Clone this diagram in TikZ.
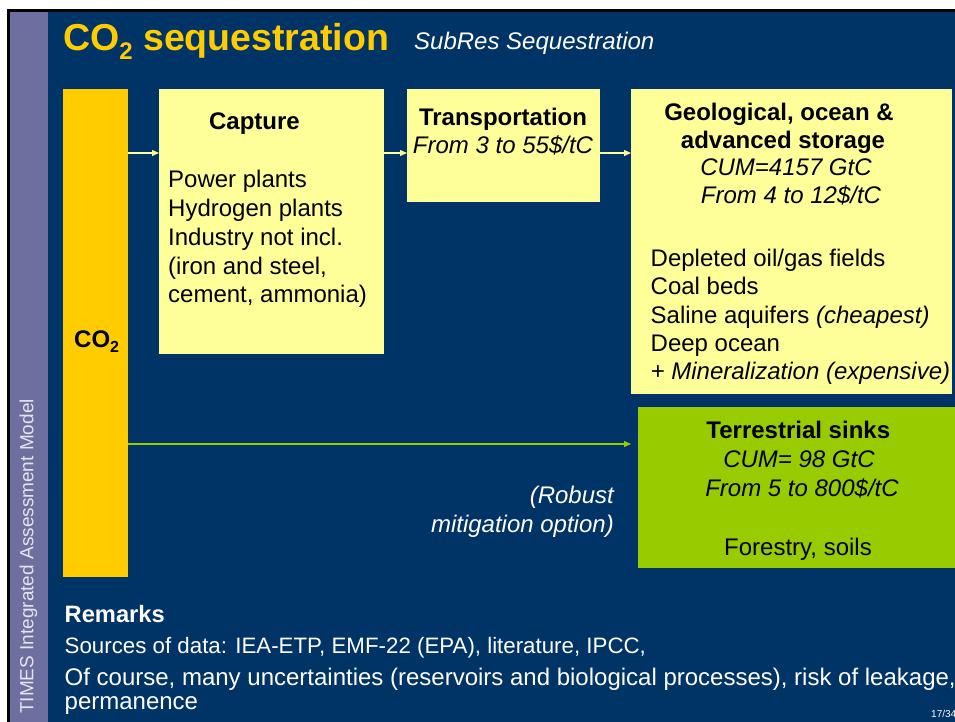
\documentclass[tikz,border=0pt]{standalone}
\usepackage{fontspec}
\setmainfont{Liberation Sans}
\usetikzlibrary{arrows.meta}
\definecolor{slideblue}{RGB}{0,51,102}
\definecolor{sidepurple}{RGB}{111,111,159}
\definecolor{sidetext}{RGB}{228,228,240}
\definecolor{goldyellow}{RGB}{255,204,0}
\definecolor{paleyellow}{RGB}{255,255,153}
\definecolor{limegreen}{RGB}{153,204,0}
\tikzset{
  boxshape/.style={rectangle, inner sep=0pt, anchor=north west, draw=none},
  ybox/.style={boxshape, fill=paleyellow},
  txt/.style={inner sep=0pt, text=black, font=\fontsize{24}{28.8}\selectfont},
  wtxt/.style={txt, text=white},
  rtxt/.style={inner sep=0pt, text=white, font=\fontsize{24}{28.8}\selectfont, anchor=base west},
  flowarrow/.style={draw=paleyellow, line width=1.2pt, -{Triangle[length=7pt,width=6pt]}},
  greenarrow/.style={draw=limegreen, line width=1.2pt, -{Triangle[length=7pt,width=6pt]}}
}
\begin{document}
\begin{tikzpicture}[x=1pt,y=-1pt]
\useasboundingbox (0,0) rectangle (955,722);
% background
\fill[white] (0,0) rectangle (955,722);
\fill[black] (7,9) rectangle (955,722);
\fill[sidepurple] (10,12) rectangle (48,722);
\fill[slideblue] (48,12) rectangle (955,722);

% title
\node[inner sep=0pt, anchor=base west, text=goldyellow, font=\bfseries\fontsize{37.5}{44}\selectfont] (title) at (63,50.5)
  {CO\raisebox{-9pt}{\fontsize{24}{24}\selectfont 2} sequestration};
\node[inner sep=0pt, anchor=base west, text=white, font=\itshape\fontsize{24}{28.8}\selectfont] (subtitle) at (414,49.5) {SubRes Sequestration};

% boxes
\node[boxshape, fill=goldyellow, minimum width=65pt, minimum height=488pt] (co2) at (63,89) {};
\node[ybox, minimum width=225pt, minimum height=264.5pt] (capture) at (159,89) {};
\node[ybox, minimum width=193pt, minimum height=112.5pt] (transport) at (407,89) {};
\node[ybox, minimum width=321pt, minimum height=304.5pt] (geo) at (631,89) {};
\node[boxshape, fill=limegreen, minimum width=330pt, minimum height=160.5pt] (terr) at (638,407) {};

% CO2 label
\node[txt, anchor=base west, font=\bfseries\fontsize{24}{28.8}\selectfont] (co2lbl) at (74,347)
  {CO\raisebox{-5pt}{\fontsize{16}{16}\selectfont 2}};

% capture text
\node[txt, anchor=base, font=\bfseries\fontsize{24}{28.8}\selectfont] (capt) at (254.5,130) {Capture};
\node[txt, anchor=base west] (c1) at (168,188) {Power plants};
\node[txt, anchor=base west] (c2) at (168,216.7) {Hydrogen plants};
\node[txt, anchor=base west] (c3) at (168,245.4) {Industry not incl.};
\node[txt, anchor=base west] (c4) at (168,274.1) {(iron and steel,};
\node[txt, anchor=base west] (c5) at (168,302.8) {cement, ammonia)};

% transport text
\node[txt, anchor=base, font=\bfseries\fontsize{24}{28.8}\selectfont] (tt) at (503,126) {Transportation};
\node[txt, anchor=base, font=\itshape\fontsize{24}{28.8}\selectfont] (t1) at (503,154) {From 3 to 55\$/tC};

% geological text
\node[txt, anchor=base, font=\bfseries\fontsize{24}{28.8}\selectfont] (g0) at (779,121) {Geological, ocean \&};
\node[txt, anchor=base, font=\bfseries\fontsize{24}{28.8}\selectfont] (g1) at (783,149) {advanced storage};
\node[txt, anchor=base, font=\itshape\fontsize{24}{28.8}\selectfont] (g2) at (786,176) {CUM=4157 GtC};
\node[txt, anchor=base, font=\itshape\fontsize{24}{28.8}\selectfont] (g3) at (791,203.5) {From 4 to 12\$/tC};
\node[txt, anchor=base west] (g4) at (650.5,266) {Depleted oil/gas fields};
\node[txt, anchor=base west] (g5) at (650.5,294.5) {Coal beds};
\node[txt, anchor=base west] (g6) at (650.5,323) {Saline aquifers \textit{(cheapest)}};
\node[txt, anchor=base west] (g7) at (650.5,351) {Deep ocean};
\node[txt, anchor=base west] (g8) at (650.5,379.5) {\textit{+ Mineralization (expensive)}};

% terrestrial text
\node[txt, anchor=base, font=\bfseries\fontsize{24}{28.8}\selectfont] (s0) at (798.3,438.3) {Terrestrial sinks};
\node[txt, anchor=base, font=\itshape\fontsize{24}{28.8}\selectfont] (s1) at (799,467) {CUM= 98 GtC};
\node[txt, anchor=base, font=\itshape\fontsize{24}{28.8}\selectfont] (s2) at (802,496) {From 5 to 800\$/tC};
\node[txt, anchor=base] (s3) at (798,555) {Forestry, soils};

% robust
\node[wtxt, anchor=base east, font=\itshape\fontsize{24}{28.8}\selectfont] (r1) at (614,503.8) {(Robust};
\node[wtxt, anchor=base east, font=\itshape\fontsize{24}{28.8}\selectfont] (r2) at (614,532.2) {mitigation option)};

% arrows
\draw[flowarrow] ([yshift=-64pt]co2.north east) -- ([yshift=-64pt]capture.north west);
\draw[flowarrow] ([yshift=-64pt]capture.north east) -- ([yshift=-64pt]transport.north west);
\draw[flowarrow] ([yshift=-64pt]transport.north east) -- ([yshift=-64pt]geo.north west);
\draw[greenarrow] ([yshift=-355pt]co2.north east) -- ([xshift=-7pt,yshift=-37pt]terr.north west);

% remarks
\node[rtxt, font=\bfseries\fontsize{23.7}{28}\selectfont] (rem) at (64.5,622.5) {Remarks};
\node[rtxt, font=\fontsize{22.3}{26.4}\selectfont] (rem1) at (64.5,653.5) {Sources of data: IEA-ETP, EMF-22 (EPA), literature, IPCC,};
\node[rtxt] (rem2) at (64.5,685) {Of course, many uncertainties (reservoirs and biological processes), risk of leakage,};
\node[rtxt] (rem3) at (64.5,709) {permanence};

% sidebar
\node[inner sep=0pt, anchor=base west, rotate=90, text=sidetext, font=\fontsize{19}{22}\selectfont] (side) at (33.3,714) {TIMES Integrated Assessment Model};

% page number
\node[inner sep=0pt, anchor=base west, text=white, font=\fontsize{10}{11}\selectfont] (pg) at (931,717.3) {17/34};
\end{tikzpicture}
\end{document}
